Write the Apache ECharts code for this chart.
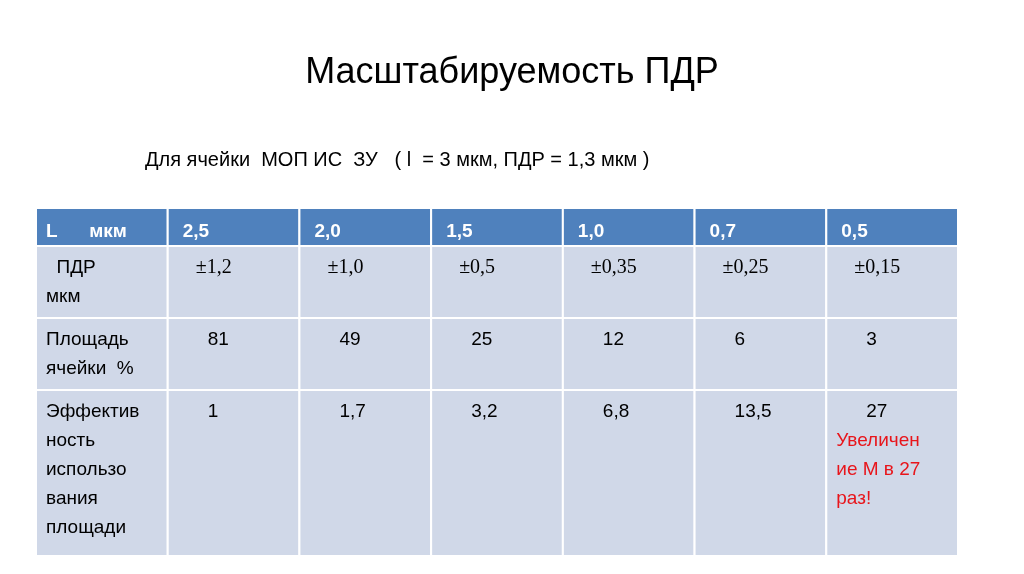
<!DOCTYPE html>
<html><head><meta charset="utf-8">
<script src="https://cdn.jsdelivr.net/npm/echarts@6/dist/echarts.min.js"></script>
<style>html,body{margin:0;background:#fff}#c{width:1024px;height:574px}</style></head>
<body><div id="c"></div>
<script>
const title = 'Масштабируемость ПДР';
const subtitle = 'Для ячейки  МОП ИС  ЗУ   ( l  = 3 мкм, ПДР = 1,3 мкм )';
const rowHeads = ['L      мкм', '  ПДР\nмкм', 'Площадь\nячейки  %', 'Эффектив\nность\nиспользо\nвания\nплощади'];
const lValues = ['2,5', '2,0', '1,5', '1,0', '0,7', '0,5'];
const pdr = ['±1,2', '±1,0', '±0,5', '±0,35', '±0,25', '±0,15'];
const area = ['81', '49', '25', '12', '6', '3'];
const eff = ['1', '1,7', '3,2', '6,8', '13,5', '27'];
const note = 'Увеличен\nие М в 27\nраз!';
const rowEdges = [0, 38, 110, 182, 348];
const rows = [lValues, pdr, area, eff];

const data = [];
for (let r = 0; r < 4; r++) {
  data.push([0, r, rowHeads[r]]);
  for (let c = 0; c < 6; c++) data.push([c + 1, r, rows[r][c]]);
}
const chart = echarts.init(document.getElementById('c'));
chart.setOption({
  animation: false,
  title: [{text: title, left: 'center', top: 50, textStyle: {fontFamily: 'Liberation Sans', fontSize: 36, fontWeight: 'normal', color: '#000'}},
          {text: subtitle, left: 140, top: 145, textStyle: {fontFamily: 'Liberation Sans', fontSize: 20, fontWeight: 'normal', color: '#000'}}],
  grid: {left: 36, right: 66, top: 208, bottom: 18},
  xAxis: {type: 'value', min: 0, max: 7, show: false},
  yAxis: {type: 'value', min: 0, max: 348, inverse: true, show: false},
  series: [{
    type: 'custom', data: data,
    renderItem: function (params, api) {
      const c = api.value(0), r = api.value(1);
      const txt = data[params.dataIndex][2];
      const p0 = api.coord([c, rowEdges[r]]);
      const p1 = api.coord([c + 1, rowEdges[r + 1]]);
      const header = r === 0;
      const fill = header ? '#4F81BD' : '#D0D8E8';
      const children = [{type: 'rect', shape: {x: p0[0], y: p0[1], width: p1[0] - p0[0], height: p1[1] - p0[1]},
        style: {fill: fill, stroke: '#fff', lineWidth: 2}}];
      const dx = c === 0 ? 10 : (header ? 15 : (r === 1 ? 28 : 40));
      children.push({type: 'text', style: {x: p0[0] + dx, y: p0[1] + (header ? 9 : 7), text: txt,
        fill: header ? '#fff' : '#000',
        font: (header ? 'bold ' : '') + (r === 1 && c > 0 ? '20px "Liberation Serif"' : '19px "Liberation Sans"'),
        lineHeight: 29}});
      if (r === 3 && c === 6) {
        children.push({type: 'text', style: {x: p0[0] + 10, y: p0[1] + 36, text: note, fill: '#E8151B',
          font: '19px "Liberation Sans"', lineHeight: 29}});
      }
      return {type: 'group', children: children};
    }
  }]
});
</script></body></html>
